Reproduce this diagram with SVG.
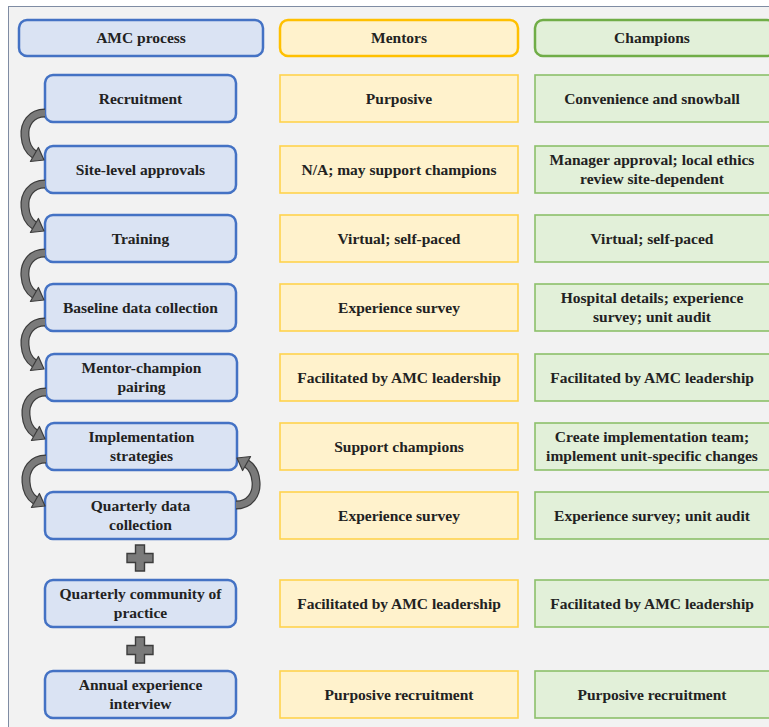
<svg xmlns="http://www.w3.org/2000/svg" xmlns:xlink="http://www.w3.org/1999/xlink" width="769" height="727" viewBox="0 0 769 727">
<style>
text{font-family:"Liberation Serif","Times New Roman",serif;font-weight:bold;font-size:15.5px;fill:#222;text-anchor:middle}
.amc{fill:#dae3f3;stroke:#4472c4;stroke-width:2.5}
.hm{fill:#fff2cc;stroke:#ffc000;stroke-width:2.5}
.hc{fill:#e2f0d9;stroke:#70ad47;stroke-width:2.5}
.m{fill:#fff2cc;stroke:#ffd34d;stroke-width:1.6}
.c{fill:#e2f0d9;stroke:#8cc06a;stroke-width:1.6}
.bo{fill:none;stroke:#3c3c3c;stroke-width:9}
.bi{fill:none;stroke:#7a7a7a;stroke-width:6.6}
.hd{fill:#7a7a7a;stroke:#3c3c3c;stroke-width:1.2;stroke-linejoin:round}
.plus{fill:#7a7a7a;stroke:#3c3c3c;stroke-width:1.4}
</style>
<defs>
<g id="carrow">
<path class="bo" d="M0,-9 C-14,-9 -21,2 -20,14 C-19.5,22 -16,29 -10.6,32.5"/>
<path class="bi" d="M0,-9 C-14,-9 -21,2 -20,14 C-19.5,22 -16,29 -10.6,32.5"/>
<polygon class="hd" points="-1,38 -14.6,39.5 -6.6,25.5"/>
</g>
</defs>
<rect x="0" y="0" width="769" height="727" fill="#ffffff"/>
<rect x="8.5" y="6.5" width="780" height="740" fill="#f2f2f2" stroke="#7f8ca3" stroke-width="1"/>

<g id="headers">
<g id="h-amc"><rect class="amc" x="19" y="20" width="244" height="36" rx="8"/><text x="141" y="43">AMC process</text></g>
<g id="h-mentors"><rect class="hm" x="280" y="20" width="238" height="36" rx="8"/><text x="399" y="43">Mentors</text></g>
<g id="h-champions"><rect class="hc" x="535" y="20" width="240" height="36" rx="8"/><text x="652" y="43">Champions</text></g>
</g>

<g id="amc-nodes">
<g id="n1"><rect class="amc" x="45" y="75" width="191" height="47" rx="8"/><text x="140.5" y="103.5">Recruitment</text></g>
<g id="n2"><rect class="amc" x="45" y="146" width="191" height="47" rx="8"/><text x="140.5" y="174.5">Site-level approvals</text></g>
<g id="n3"><rect class="amc" x="45" y="215" width="191" height="47" rx="8"/><text x="140.5" y="243.5">Training</text></g>
<g id="n4"><rect class="amc" x="45" y="284" width="191" height="47" rx="8"/><text x="140.5" y="312.5">Baseline data collection</text></g>
<g id="n5"><rect class="amc" x="46" y="354" width="191" height="47" rx="8"/><text x="141.5" y="372.7">Mentor-champion</text><text x="141.5" y="392.2">pairing</text></g>
<g id="n6"><rect class="amc" x="46" y="423" width="191" height="47" rx="8"/><text x="141.5" y="441.7">Implementation</text><text x="141.5" y="461.2">strategies</text></g>
<g id="n7"><rect class="amc" x="45" y="492" width="191" height="47" rx="8"/><text x="140.5" y="510.7">Quarterly data</text><text x="140.5" y="530.2">collection</text></g>
<g id="n8"><rect class="amc" x="45" y="580" width="191" height="47" rx="8"/><text x="140.5" y="598.7">Quarterly community of</text><text x="140.5" y="618.2">practice</text></g>
<g id="n9"><rect class="amc" x="45" y="671" width="191" height="47" rx="8"/><text x="140.5" y="689.7">Annual experience</text><text x="140.5" y="709.2">interview</text></g>
</g>

<g id="mentor-nodes">
<g id="m1"><rect class="m" x="280" y="75" width="238" height="47"/><text x="399" y="103.5">Purposive</text></g>
<g id="m2"><rect class="m" x="280" y="146" width="238" height="47"/><text x="399" y="174.5">N/A; may support champions</text></g>
<g id="m3"><rect class="m" x="280" y="215" width="238" height="47"/><text x="399" y="243.5">Virtual; self-paced</text></g>
<g id="m4"><rect class="m" x="280" y="284" width="238" height="47"/><text x="399" y="312.5">Experience survey</text></g>
<g id="m5"><rect class="m" x="280" y="354" width="238" height="47"/><text x="399" y="382.5">Facilitated by AMC leadership</text></g>
<g id="m6"><rect class="m" x="280" y="423" width="238" height="47"/><text x="399" y="451.5">Support champions</text></g>
<g id="m7"><rect class="m" x="280" y="492" width="238" height="47"/><text x="399" y="520.5">Experience survey</text></g>
<g id="m8"><rect class="m" x="280" y="580" width="238" height="47"/><text x="399" y="608.5">Facilitated by AMC leadership</text></g>
<g id="m9"><rect class="m" x="280" y="671" width="238" height="47"/><text x="399" y="699.5">Purposive recruitment</text></g>
</g>

<g id="champion-nodes">
<g id="c1"><rect class="c" x="535" y="75" width="240" height="47"/><text x="652" y="103.5">Convenience and snowball</text></g>
<g id="c2"><rect class="c" x="535" y="146" width="240" height="47"/><text x="652" y="164.7">Manager approval; local ethics</text><text x="652" y="184.2">review site-dependent</text></g>
<g id="c3"><rect class="c" x="535" y="215" width="240" height="47"/><text x="652" y="243.5">Virtual; self-paced</text></g>
<g id="c4"><rect class="c" x="535" y="284" width="240" height="47"/><text x="652" y="302.7">Hospital details; experience</text><text x="652" y="322.2">survey; unit audit</text></g>
<g id="c5"><rect class="c" x="535" y="354" width="240" height="47"/><text x="652" y="382.5">Facilitated by AMC leadership</text></g>
<g id="c6"><rect class="c" x="535" y="423" width="240" height="47"/><text x="652" y="441.7">Create implementation team;</text><text x="652" y="461.2">implement unit-specific changes</text></g>
<g id="c7"><rect class="c" x="535" y="492" width="240" height="47"/><text x="652" y="520.5">Experience survey; unit audit</text></g>
<g id="c8"><rect class="c" x="535" y="580" width="240" height="47"/><text x="652" y="608.5">Facilitated by AMC leadership</text></g>
<g id="c9"><rect class="c" x="535" y="671" width="240" height="47"/><text x="652" y="699.5">Purposive recruitment</text></g>
</g>

<g id="connectors">
<use xlink:href="#carrow" transform="translate(45,122)"/>
<use xlink:href="#carrow" transform="translate(45,193)"/>
<use xlink:href="#carrow" transform="translate(45,262)"/>
<use xlink:href="#carrow" transform="translate(45,331)"/>
<use xlink:href="#carrow" transform="translate(46,401)"/>
<use xlink:href="#carrow" transform="translate(46,468)"/>
<use xlink:href="#carrow" transform="translate(236,496) rotate(180)"/>
<path class="plus" d="M135.5,545 h9 v8.5 h8.5 v9 h-8.5 v8.5 h-9 v-8.5 h-8.5 v-9 h8.5 z"/>
<path class="plus" d="M135.5,637 h9 v8.5 h8.5 v9 h-8.5 v8.5 h-9 v-8.5 h-8.5 v-9 h8.5 z"/>
</g>
</svg>
